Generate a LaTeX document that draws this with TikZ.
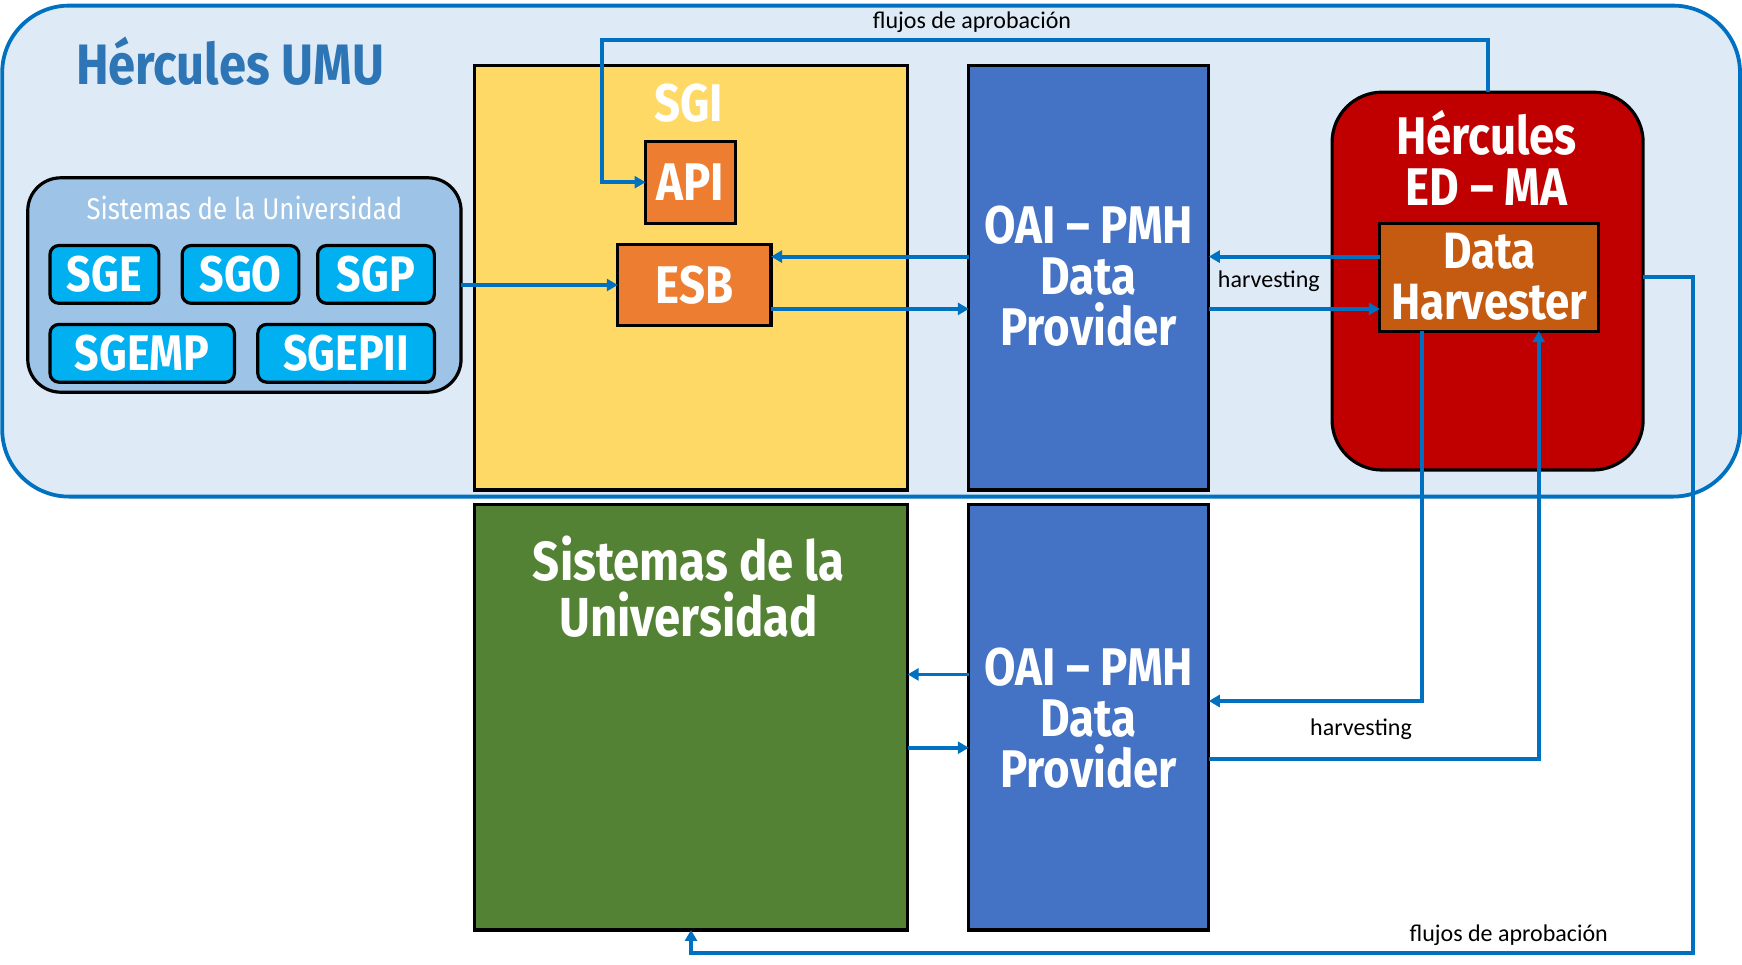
\documentclass[tikz,border=0pt]{standalone}
\usepackage{fontspec}
\setmainfont{Fira Sans}
\newfontfamily\cond{Fira Sans}[FakeStretch=0.86]
\newfontfamily\calib{Carlito}
\usetikzlibrary{arrows.meta}
\definecolor{outerfill}{HTML}{DEEBF7}
\definecolor{arrowblue}{HTML}{0070C0}
\definecolor{titleblue}{HTML}{2E75B6}
\definecolor{sgiyellow}{HTML}{FFD966}
\definecolor{orangebox}{HTML}{ED7D31}
\definecolor{oaiblue}{HTML}{4472C4}
\definecolor{herred}{HTML}{C00000}
\definecolor{dhbrown}{HTML}{C55A11}
\definecolor{grpblue}{HTML}{9DC3E6}
\definecolor{sgcyan}{HTML}{00B0F0}
\definecolor{unigreen}{HTML}{548235}
\begin{document}
\begin{tikzpicture}[x=1pt,y=-1pt,
  box/.style={draw=black,line width=3.2pt,inner sep=0pt,outer sep=0pt,anchor=center},
  big/.style={font=\cond\bfseries\fontsize{53}{51}\selectfont,text=white,align=center,inner sep=0pt},
  sgbox/.style={box,fill=sgcyan,rounded corners=9pt,font=\cond\bfseries\fontsize{50}{50}\selectfont,text=white},
  arr/.style={draw=arrowblue,line width=3.8pt,-{Triangle[length=11pt,width=12pt]}},
  small/.style={font=\calib\fontsize{24}{26}\selectfont,text=black,inner sep=0pt}]
\useasboundingbox (0,0) rectangle (1742,964);
% outer container
\node[draw=arrowblue,fill=outerfill,line width=3.8pt,rounded corners=67pt,inner sep=0pt,
  minimum width=1737.8pt,minimum height=491pt] (outer) at (871.1,251.1) {};
\node[font=\cond\bfseries\fontsize{57}{57}\selectfont,text=titleblue,inner sep=0pt] (title) at (230,61) {Hércules UMU};
% SGI
\node[box,fill=sgiyellow,minimum width=433.3pt,minimum height=424.5pt] (sgi) at (691,277.8) {};
\node[big] (sgilbl) at (688.8,103.3) {SGI};
\node[box,fill=orangebox,minimum width=90pt,minimum height=82pt,big] (api) at (690.5,182.2) {API};
\node[box,fill=orangebox,minimum width=153.3pt,minimum height=81pt,big] (esb) at (694.4,285) {ESB};
% OAI top
\node[box,fill=oaiblue,minimum width=240pt,minimum height=424.5pt] (oai1) at (1088.8,277.8) {};
\node[big] (oai1lbl) at (1088.8,276.6) {OAI – PMH\\Data\\Provider};
% Hercules ED-MA
\node[box,fill=herred,rounded corners=50pt,minimum width=311pt,minimum height=377.8pt] (red) at (1487.6,281.1) {};
\node[big] (redlbl) at (1486.5,157.8) {Hércules\\ED – MA};
\node[box,fill=dhbrown,minimum width=218.9pt,minimum height=107.8pt] (dh) at (1489.3,277.2) {};
\node[big,font=\cond\bfseries\fontsize{51}{51}\selectfont] (dhlbl) at (1489.3,277.2) {Data\\Harvester};
% Sistemas group
\node[box,fill=grpblue,rounded corners=33pt,minimum width=433.3pt,minimum height=214.4pt] (grp) at (244.4,285) {};
\node[font=\cond\fontsize{30}{30}\selectfont,text=white,inner sep=0pt] (grplbl) at (244.4,207.8) {Sistemas de la Universidad};
\node[sgbox,minimum width=108.9pt,minimum height=57.8pt] (sge) at (104.4,274.4) {SGE};
\node[sgbox,minimum width=116.7pt,minimum height=57.8pt] (sgo) at (240.5,274.4) {SGO};
\node[sgbox,minimum width=116.7pt,minimum height=57.8pt] (sgp) at (376,274.4) {SGP};
\node[sgbox,minimum width=184.4pt,minimum height=57.8pt] (sgemp) at (142.2,353.3) {SGEMP};
\node[sgbox,minimum width=176.6pt,minimum height=57.8pt] (sgepii) at (346.1,353.3) {SGEPII};
% bottom row
\node[box,fill=unigreen,minimum width=433.3pt,minimum height=425.5pt] (green) at (691,717.2) {};
\node[big,font=\cond\bfseries\fontsize{55}{56}\selectfont] (greenlbl) at (688.8,586.6) {Sistemas de la\\Universidad};
\node[box,fill=oaiblue,minimum width=240pt,minimum height=425.5pt] (oai2) at (1088.8,717.2) {};
\node[big] (oai2lbl) at (1088.8,717.7) {OAI – PMH\\Data\\Provider};
% connectors
\coordinate (ya) at (0,256.6);
\coordinate (yb) at (0,308.9);
\draw[arr] (grp.east) -- (esb.west);
\draw[arr] (oai1.west |- ya) -- (esb.east |- ya);
\draw[arr] (esb.east |- yb) -- (oai1.west |- yb);
\draw[arr] (dh.west |- ya) -- (oai1.east |- ya);
\draw[arr] (oai1.east |- yb) -- (dh.west |- yb);
\coordinate (t1) at (602.2,40);
\draw[arr] (red.north) |- (t1) |- (api.west);
\coordinate (h1) at (1422.1,701);
\draw[arr] (dh.south -| h1) -- (h1) -- (oai2.east |- h1);
\coordinate (h2) at (1538.7,758.8);
\draw[arr] (oai2.east |- h2) -- (h2) -- (dh.south -| h2);
\coordinate (f1) at (1693.2,953.2);
\draw[arr] (red.east |- dh.center) -| (f1) -| (green.south);
\coordinate (yc) at (0,674.4);
\coordinate (yd) at (0,747.7);
\draw[arr] (oai2.west |- yc) -- (green.east |- yc);
\draw[arr] (green.east |- yd) -- (oai2.west |- yd);
% labels
\node[small] (lblf1) at (972,22.2) {flujos de aprobación};
\node[small] (lblh1) at (1268.8,281) {harvesting};
\node[small] (lblh2) at (1361,728.8) {harvesting};
\node[small] (lblf2) at (1508.7,935.5) {flujos de aprobación};
\end{tikzpicture}
\end{document}
